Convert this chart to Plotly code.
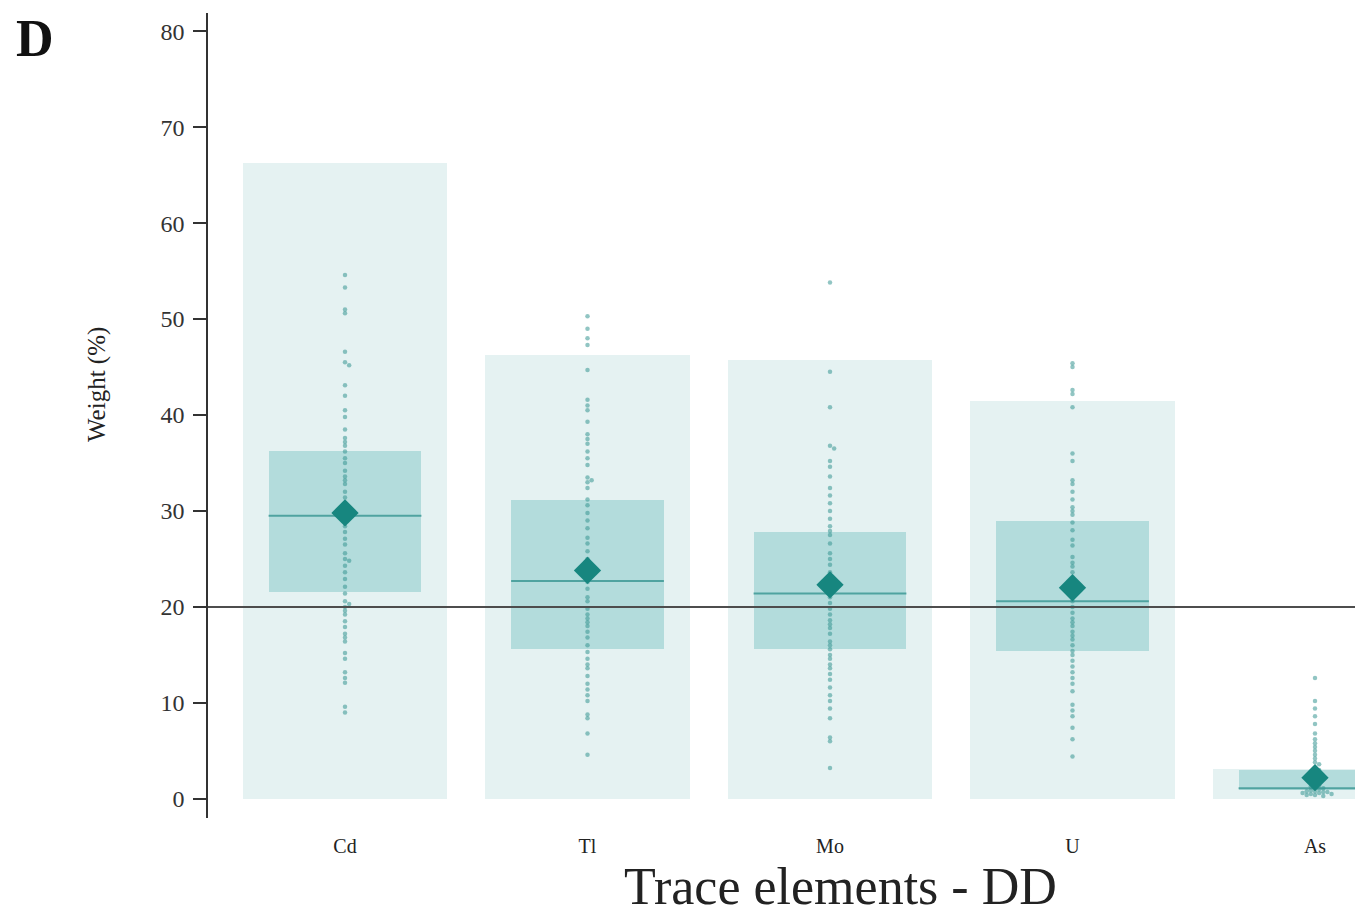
import plotly.graph_objects as go

categories = ["Cd", "Tl", "Mo", "U", "As"]
bar_top = [66.3, 46.3, 45.7, 41.5, 3.1]
q1 = [21.6, 15.6, 15.6, 15.4, 0.9]
median = [29.5, 22.7, 21.4, 20.6, 1.1]
q3 = [36.3, 31.1, 27.8, 29.0, 3.0]
mean = [29.8, 23.8, 22.3, 22.0, 2.2]
threshold = 20

pts_cd = [54.6, 53.3, 51.0, 50.6, 46.6, 45.5, 45.2, 43.1, 42.0, 40.5, 39.8, 38.5, 37.6, 37.2,
          36.8, 36.2, 35.5, 35.0, 34.2, 33.6, 33.2, 32.8, 32.0, 31.4, 30.8, 30.2, 29.6, 29.0,
          28.4, 27.8, 27.1, 26.5, 25.6, 25.0, 24.8, 24.3, 23.6, 22.9, 22.1, 21.4, 20.6, 20.3,
          20.0, 19.6, 19.2, 18.5, 17.9, 17.2, 16.8, 16.4, 15.2, 14.6, 13.2, 12.6, 12.1, 9.6, 9.0]
pts_tl = [50.3, 49.0, 48.0, 47.3, 44.7, 41.6, 41.0, 40.5, 39.3, 38.0, 37.5, 37.0, 36.2, 35.5,
          34.8, 33.5, 33.2, 33.0, 32.4, 31.2, 30.6, 29.8, 29.0, 28.2, 27.2, 26.6, 25.8, 25.0,
          24.3, 23.4, 22.6, 21.9, 21.0, 20.6, 19.8, 19.2, 18.8, 18.4, 18.0, 17.4, 16.8, 16.0,
          15.3, 14.6, 14.0, 13.6, 12.8, 12.0, 11.4, 10.8, 10.2, 8.8, 8.4, 6.8, 4.6]
pts_mo = [53.8, 44.5, 40.8, 36.8, 36.5, 35.2, 34.6, 33.6, 32.4, 31.6, 30.8, 30.0, 29.2, 28.4,
          27.9, 27.5, 26.6, 25.6, 25.0, 24.4, 23.6, 23.0, 22.2, 21.6, 21.0, 20.4, 19.8, 19.2,
          18.6, 18.2, 17.8, 17.2, 16.4, 16.0, 15.6, 15.0, 14.6, 14.0, 13.6, 13.0, 12.4, 11.6,
          10.8, 10.2, 9.4, 8.4, 6.4, 6.0, 3.2]
pts_u = [45.4, 45.0, 42.6, 42.2, 40.8, 36.0, 35.2, 33.2, 32.8, 32.0, 31.2, 30.4, 30.0, 29.6,
         28.8, 28.0, 27.0, 26.4, 25.2, 24.6, 24.2, 23.6, 22.6, 21.8, 21.2, 20.6, 20.0, 19.4,
         18.8, 18.4, 18.0, 17.4, 17.0, 16.6, 16.0, 15.4, 15.0, 14.4, 13.8, 13.2, 12.6, 12.0,
         11.2, 9.8, 9.2, 8.6, 7.4, 6.2, 4.4]
pts_as = [12.6, 10.2, 9.4, 8.6, 7.8, 6.8, 6.2, 5.8, 5.4, 5.0, 4.6, 4.2, 3.8, 3.6, 3.2, 3.0,
          2.8, 2.6, 2.4, 2.2, 2.0, 1.8, 1.6, 1.4, 1.3, 1.2, 1.1, 1.0, 0.9, 0.8, 0.8, 0.7, 0.7,
          0.6, 0.6, 0.5, 0.5, 0.4, 0.4, 0.3]
points = [pts_cd, pts_tl, pts_mo, pts_u, pts_as]

# layout constants (page is offset by the 8px default body margin)
OFF = 8
FIG_W, FIG_H = 1363 - OFF, 919 - OFF
ML, MR, MT, MB = 208 - OFF, 0, 13 - OFF, 919 - 818
X_RANGE = [-0.565, 4.198]
Y_RANGE = [-2.0, 81.9]
PX_PER_X = 242.5
PX_PER_Y = 9.59
BAR_W = 0.845
BOX_W = 0.63

LIGHT = "#e5f2f2"
BOX = "#b3dcdc"
MED = "#4fa3a0"
DIAMOND = "#17867f"
DOT = "rgba(55,150,145,0.55)"
SERIF = "Liberation Serif, Times New Roman, serif"


def swarm(vals, diam=4.6):
    """simple beeswarm offsets (in x data units)"""
    placed = []
    offs = []
    for v in vals:
        ypx = v * PX_PER_Y
        k = 0
        while True:
            cands = [0.0] if k == 0 else [k * diam * 0.9, -k * diam * 0.9]
            ok_c = None
            for c in cands:
                if all((c - px) ** 2 + (ypx - py) ** 2 >= (diam * 0.8) ** 2 for px, py in placed):
                    ok_c = c
                    break
            if ok_c is not None:
                placed.append((ok_c, ypx))
                offs.append(ok_c / PX_PER_X)
                break
            k += 1
    return offs


fig = go.Figure()
xs = list(range(len(categories)))

fig.add_trace(go.Bar(x=xs, y=bar_top, width=BAR_W, marker=dict(color=LIGHT, line=dict(width=0)),
                     hoverinfo="skip", showlegend=False))
fig.add_trace(go.Bar(x=xs, y=[b - a for a, b in zip(q1, q3)], base=q1, width=BOX_W,
                     marker=dict(color=BOX, line=dict(width=0)), showlegend=False))

med_x, med_y = [], []
for i, m in enumerate(median):
    med_x += [i - BOX_W / 2, i + BOX_W / 2, None]
    med_y += [m, m, None]
fig.add_trace(go.Scatter(x=med_x, y=med_y, mode="lines", line=dict(color=MED, width=2),
                         showlegend=False, hoverinfo="skip"))

for i, vals in enumerate(points):
    offs = swarm(vals)
    fig.add_trace(go.Scatter(x=[i + o for o in offs], y=vals, mode="markers",
                             marker=dict(size=4.5, color=DOT), showlegend=False))

fig.add_trace(go.Scatter(x=xs, y=mean, mode="markers",
                         marker=dict(symbol="diamond", size=21, color=DIAMOND), showlegend=False))

fig.add_shape(type="line", xref="paper", x0=0, x1=1, yref="y", y0=threshold, y1=threshold,
              line=dict(color="#4d4d4d", width=2), layer="above")

pw, ph = FIG_W - ML - MR, FIG_H - MT - MB


def px_to_paper(px, py):
    # px, py are page pixel coordinates
    return (px - OFF - ML) / pw, (FIG_H - MB - (py - OFF)) / ph


ax, ay = px_to_paper(97, 385)
bx, by = px_to_paper(840, 887)
cx, cy = px_to_paper(35, 39)

fig.update_layout(
    width=FIG_W, height=FIG_H,
    margin=dict(l=ML, r=MR, t=MT, b=MB, pad=0),
    plot_bgcolor="white", paper_bgcolor="white",
    barmode="overlay", bargap=0,
    xaxis=dict(range=X_RANGE, tickvals=xs, ticktext=categories, showline=False, showgrid=False,
               zeroline=False, ticks="", ticklabelstandoff=14,
               tickfont=dict(family=SERIF, size=20, color="#222")),
    yaxis=dict(range=Y_RANGE, tickvals=[0, 10, 20, 30, 40, 50, 60, 70, 80], showgrid=False,
               zeroline=False, showline=True, linecolor="#333", linewidth=1.5,
               ticks="outside", ticklen=13, tickwidth=1.5, tickcolor="#333",
               ticklabelstandoff=4,
               tickfont=dict(family=SERIF, size=24, color="#333")),
    annotations=[
        dict(text="Weight (%)", xref="paper", yref="paper", x=ax, y=ay, textangle=-90,
             xanchor="center", yanchor="middle", showarrow=False,
             font=dict(family=SERIF, size=25, color="#222")),
        dict(text="Trace elements - DD", xref="paper", yref="paper", x=bx, y=by,
             xanchor="center", yanchor="middle", showarrow=False,
             font=dict(family=SERIF, size=52, color="#222")),
        dict(text="<b>D</b>", xref="paper", yref="paper", x=cx, y=cy,
             xanchor="center", yanchor="middle", showarrow=False,
             font=dict(family=SERIF, size=52, color="#111")),
    ],
)

fig.write_html("out.html")
